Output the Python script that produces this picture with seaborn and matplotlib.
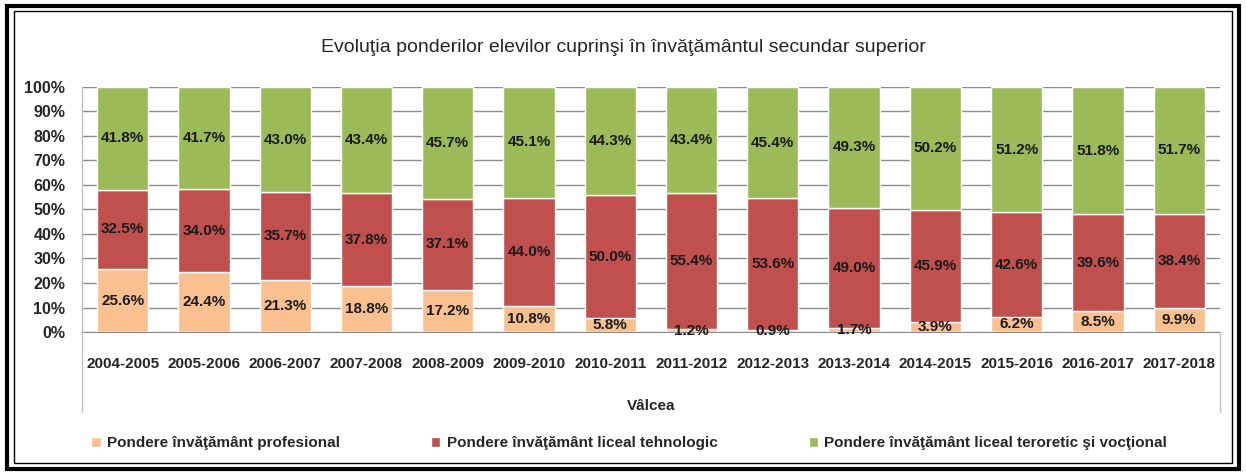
import matplotlib
matplotlib.use("Agg")
import matplotlib.pyplot as plt
import numpy as np
import pandas as pd
import seaborn as sns
from matplotlib.patches import Rectangle

# DATE
ani = ["2004-2005", "2005-2006", "2006-2007", "2007-2008", "2008-2009", "2009-2010",
       "2010-2011", "2011-2012", "2012-2013", "2013-2014", "2014-2015", "2015-2016",
       "2016-2017", "2017-2018"]
profesional = [25.6, 24.4, 21.3, 18.8, 17.2, 10.8, 5.8, 1.2, 0.9, 1.7, 3.9, 6.2, 8.5, 9.9]
tehnologic = [32.5, 34.0, 35.7, 37.8, 37.1, 44.0, 50.0, 55.4, 53.6, 49.0, 45.9, 42.6, 39.6, 38.4]
teoretic = [41.8, 41.7, 43.0, 43.4, 45.7, 45.1, 44.3, 43.4, 45.4, 49.3, 50.2, 51.2, 51.8, 51.7]

serii = ["Pondere învăţământ profesional",
         "Pondere învăţământ liceal tehnologic",
         "Pondere învăţământ liceal teroretic şi vocţional"]
culori = ["#FAC08F", "#C0504D", "#9BBB59"]

sns.set_style("white")
plt.rcParams['font.family'] = ['Liberation Sans Narrow', 'Liberation Sans', 'DejaVu Sans']

df = pd.DataFrame({"an": ani, "prof": profesional, "teh": tehnologic, "teo": teoretic})

fig = plt.figure(figsize=(12.46, 4.75), dpi=100)
ax = fig.add_axes([0.0658, 0.301, 0.9132, 0.516])

baza = np.zeros(len(ani))
for col, nume, c in zip(["prof", "teh", "teo"], serii, culori):
    sns.barplot(data=df, x="an", y=col, color=c, bottom=baza, width=0.63,
                ax=ax, label=nume, saturation=1, zorder=3)
    for i, v in enumerate(df[col]):
        ax.text(i, baza[i] + v / 2, f"{v:.1f}%", ha="center", va="center",
                fontsize=11, fontweight="bold", color="#1a1a1a", zorder=4)
    baza = baza + df[col].values

# axe si stil
ax.set_ylim(0, 100)
ax.set_xlim(-0.5, len(ani) - 0.5)
ax.set_yticks(np.arange(0, 101, 10))
ax.set_yticklabels([f"{t}%" for t in range(0, 101, 10)], fontsize=11.5, fontweight="bold")
ax.tick_params(axis="x", labelsize=11, length=0, pad=18)
ax.tick_params(axis="y", length=0, pad=12)
for lbl in ax.get_xticklabels():
    lbl.set_fontweight("bold")
ax.yaxis.grid(True, color="#8c8c8c", linewidth=1, zorder=0)
ax.set_axisbelow(True)
for s in ["top", "right", "left"]:
    ax.spines[s].set_visible(False)
ax.spines["bottom"].set_color("#8c8c8c")
ax.set_ylabel("")
ax.set_xlabel("Vâlcea", fontsize=11, fontweight="bold", labelpad=20)

# linii verticale ca in Excel
ax.plot([-0.5, -0.5], [0, 100], color="#c0c0c0", lw=1, clip_on=False)
fig.add_artist(plt.Line2D([0.0658, 0.0658], [0.133, 0.301], color="#c0c0c0", lw=1))
fig.add_artist(plt.Line2D([0.979, 0.979], [0.133, 0.301], color="#c0c0c0", lw=1))

fig.text(0.5, 0.90, "Evoluţia ponderilor elevilor cuprinşi în învăţământul secundar superior",
         ha="center", va="center", fontsize=14)

ax.legend(loc="center", bbox_to_anchor=(0.505, 0.067), bbox_transform=fig.transFigure,
          ncol=3, frameon=False, handlelength=0.6, handleheight=0.6,
          columnspacing=6, handletextpad=0.4, prop={"weight": "bold", "size": 11})

# ramă dublă
fig.add_artist(Rectangle((0.006, 0.012), 0.988, 0.976, transform=fig.transFigure,
                         fill=False, edgecolor="black", lw=3))
fig.add_artist(Rectangle((0.011, 0.025), 0.978, 0.952, transform=fig.transFigure,
                         fill=False, edgecolor="black", lw=1))

plt.savefig("out.png", dpi=100)
